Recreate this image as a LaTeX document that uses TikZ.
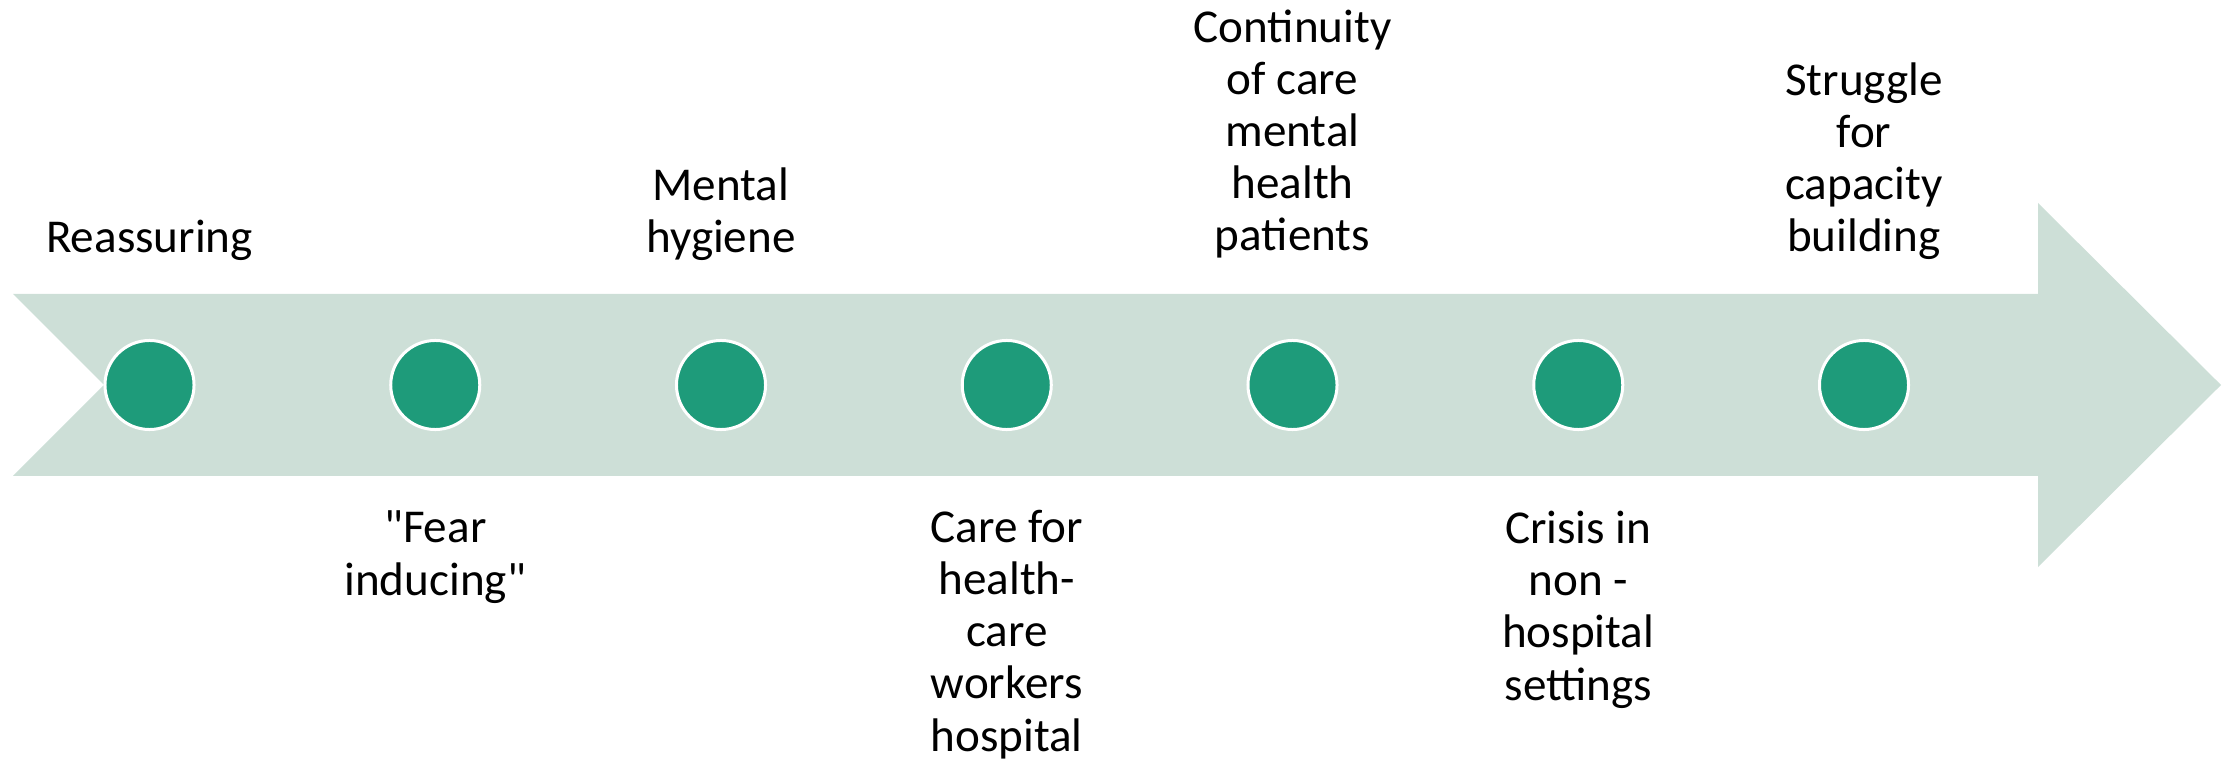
\documentclass[tikz,border=0pt]{standalone}
\usepackage{fontspec}
\setmainfont{Carlito}[Ligatures=TeXOff]
\usepackage{tikz}
\usetikzlibrary{positioning}
\tikzset{dot/.style = {circle, fill = mgreen, draw = white, line width = 0.03cm, inner sep = 0, minimum size = 0.89cm}}
\tikzset{lbl/.style = {align = center, inner sep = 0, anchor = base, font = \fontsize{13.4pt}{14.8pt}\selectfont}}
\definecolor{mgreen}{RGB}{30, 155, 122}
\definecolor{mband}{RGB}{205, 223, 215}

\begin{document}
\begin{tikzpicture}[x=0.01cm, y=-0.01cm]
    \useasboundingbox (0, 0) rectangle (2233, 764);
    % the arrow
    \fill [mband] (13, 294) -- (2038, 294) -- (2038, 203) -- (2221, 385) -- (2038, 567)
      -- (2038, 476) -- (13, 476) -- (104, 385) -- cycle;

    \node [dot] (d1) at (149.5, 385) {};
    \node [dot] (d2) at (435.25, 385) {};
    \node [dot] (d3) at (721, 385) {};
    \node [dot] (d4) at (1006.75, 385) {};
    \node [dot] (d5) at (1292.5, 385) {};
    \node [dot] (d6) at (1578.25, 385) {};
    \node [dot] (d7) at (1864, 385) {};

    % above the arrow
    \node [lbl] (reassuring) at (149.5, 253) {Reassuring};
    \node [lbl] (hygiene) at (721, 253) {Mental\\hygiene};
    \node [lbl] (continuity) at (1292.5, 251) {Continuity\\of care\\mental\\health\\patients};
    \node [lbl] (struggle) at (1864, 252) {Struggle\\for\\capacity\\building};
    % below the arrow
    \node [lbl] (fear) at (435.25, 595) {"Fear\\inducing"};
    \node [lbl] (workers) at (1006.75, 751) {Care for\\health-\\care\\workers\\hospital};
    \node [lbl] (crisis) at (1578.25, 700) {Crisis in\\non -\\hospital\\settings};
  \end{tikzpicture}
\end{document}
